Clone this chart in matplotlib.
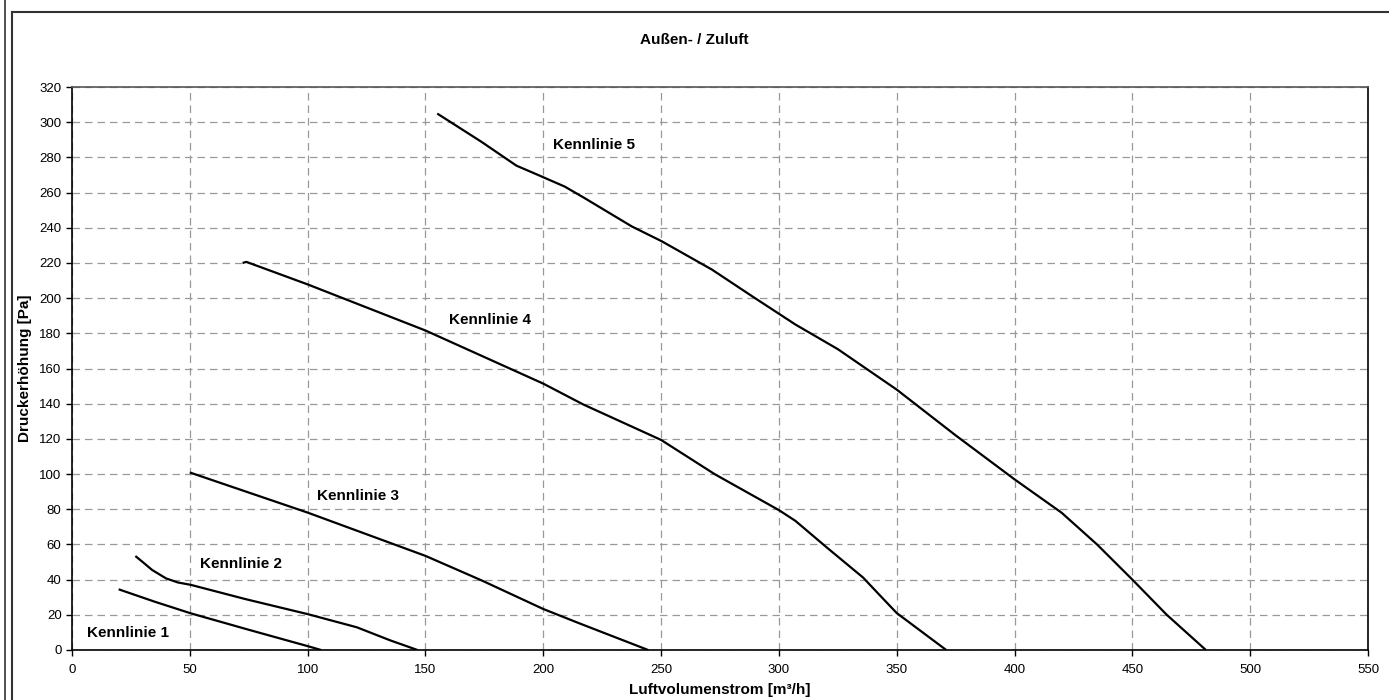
import matplotlib
matplotlib.use("Agg")
import matplotlib.pyplot as plt
from matplotlib.lines import Line2D

plt.rcParams['font.family'] = ['Liberation Sans', 'DejaVu Sans']

# Data
k1_x = [19.8, 35, 50.5, 75, 100, 105.7]
k1_y = [34.5, 27.5, 20.8, 11.5, 2.2, 0]

k2_x = [26.9, 30, 34, 39.9, 44.9, 50.5, 73.4, 100, 120.9, 135, 146.6]
k2_y = [53.4, 50.0, 45.5, 40.7, 38.4, 37.0, 29.0, 20.4, 12.9, 5.5, 0]

k3_x = [50, 100, 150, 174.1, 200, 216, 244.5]
k3_y = [100.9, 78.1, 53.5, 39.4, 23.3, 14.8, 0]

k4_x = [72.4, 74, 100, 150, 200, 216.9, 250, 272.8, 300, 307, 320.3, 335.7, 342.9, 350, 360, 371]
k4_y = [220.0, 220.6, 207.8, 181.6, 151.4, 139.6, 119.4, 99.9, 79.5, 73.4, 58.3, 41.2, 31.0, 21.0, 11.0, 0]

k5_x = [155, 173.7, 188.6, 197.8, 209.1, 217.6, 237.5, 250.3, 271.6, 288.6, 307, 325, 350, 375, 400, 420, 435, 450, 464.6, 481.2]
k5_y = [304.9, 288.9, 275.3, 270.0, 263.4, 256.8, 240.8, 232.3, 216.2, 201.1, 185.0, 171.0, 148.0, 122.0, 97.0, 78.0, 60.0, 40.0, 20.0, 0]

labels = ["Kennlinie 1", "Kennlinie 2", "Kennlinie 3", "Kennlinie 4", "Kennlinie 5"]
label_x = [6.5, 54.4, 104.0, 159.9, 204.2]
label_y = [9.8, 48.8, 87.6, 187.5, 287.0]

x_ticks = list(range(0, 551, 50))
y_ticks = list(range(0, 321, 20))

title = "Außen- / Zuluft"
xlabel = "Luftvolumenstrom [m³/h]"
ylabel = "Druckerhöhung [Pa]"

W, H = 1389, 700
fig = plt.figure(figsize=(W / 100, H / 100), dpi=100)
ax = fig.add_axes([72 / W, (H - 650) / H, (1368 - 72) / W, (650 - 87) / H])

for xs, ys in [(k1_x, k1_y), (k2_x, k2_y), (k3_x, k3_y), (k4_x, k4_y), (k5_x, k5_y)]:
    ax.plot(xs, ys, color='black', linewidth=1.6, solid_capstyle='butt', zorder=3)

for t, lx, ly in zip(labels, label_x, label_y):
    ax.text(lx, ly, t, fontsize=11, fontweight='bold', ha='left', va='center', zorder=4)

ax.set_xlim(0, 550)
ax.set_ylim(0, 320)
ax.set_xticks(x_ticks)
ax.set_yticks(y_ticks)
ax.tick_params(axis='both', direction='out', length=4, width=1, labelsize=9.5, colors='black')
ax.tick_params(axis='x', pad=6)
ax.grid(True, color='#999999', linestyle=(0, (6, 4)), linewidth=0.9)
ax.set_axisbelow(True)
for side in ['left', 'bottom', 'right']:
    ax.spines[side].set_color('black')
    ax.spines[side].set_linewidth(1.2)
ax.spines['top'].set_color('#555555')
ax.spines['top'].set_linewidth(1.2)

ax.set_xlabel(xlabel, fontsize=11, fontweight='bold', labelpad=5)
ax.set_ylabel(ylabel, fontsize=11, fontweight='bold', labelpad=5)

fig.text(0.5, 1 - 40 / H, title, fontsize=11, fontweight='bold', ha='center', va='center')

# outer frame lines
fig.add_artist(Line2D([4.5 / W, 4.5 / W], [0, 1], transform=fig.transFigure, color='#333333', linewidth=1.2))
fig.add_artist(Line2D([11.5 / W, 11.5 / W], [0, 1 - 11.5 / H], transform=fig.transFigure, color='#333333', linewidth=1.5))
fig.add_artist(Line2D([11.5 / W, 1], [1 - 11.5 / H, 1 - 11.5 / H], transform=fig.transFigure, color='#333333', linewidth=1.5))

fig.savefig("out.png", dpi=100)
